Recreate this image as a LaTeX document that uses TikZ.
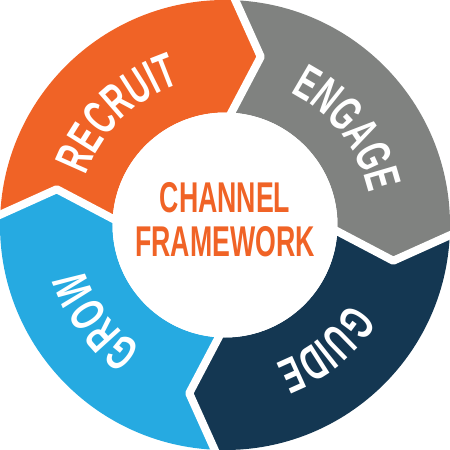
\documentclass[tikz,border=0pt]{standalone}
\usepackage{fontspec}
\usetikzlibrary{decorations.text}
\newfontfamily\framefont{Liberation Sans}[FakeStretch=0.62]
\newcommand\ringfont{\framefont\bfseries\fontsize{28}{30}\selectfont\color{white}}
\definecolor{corange}{RGB}{240,99,38}
\definecolor{cgray}{RGB}{128,130,128}
\definecolor{cnavy}{RGB}{20,55,82}
\definecolor{cblue}{RGB}{38,170,225}
\tikzset{gap/.style={white,line width=0.16cm,line join=round},
  ring label/.style={decorate,decoration={text along path,text align=center,text={#1}}}}

\begin{document}
\begin{tikzpicture}
    \def\R{4.5}\def\r{2.25}\def\t{3.44}\def\b{2.95}
    \useasboundingbox (-\R,-\R) rectangle (\R,\R);
    % ring segments, each one ends in an arrow point (clockwise)
    \foreach \a/\c in {178/corange,88/cgray,-2/cnavy,-92/cblue}
      \fill[\c] (\a:\R) arc[start angle=\a, end angle={\a-90}, radius=\R]
        -- ({\a-100}:\t) -- ({\a-90}:\r) arc[start angle={\a-90}, end angle=\a, radius=\r]
        -- ({\a-10}:\t) -- cycle;
    \foreach \a in {178,88,-2,-92}
      \draw[gap] (\a:{\R+0.1}) -- ({\a-10}:\t) -- (\a:{\r-0.1});
    \node[circle,fill=white,minimum size={2*\r cm},inner sep=0pt] (hub) at (0,0) {};
    \node[font=\framefont\bfseries\fontsize{24.5}{25}\selectfont,text=corange,align=center] (title) at (0,0.1) {CHANNEL\\FRAMEWORK};
    % labels along the ring
    \path[ring label={|\ringfont|RECRUIT}] (174:\b) arc[start angle=174, end angle=94, radius=\b];
    \path[ring label={|\ringfont|ENGAGE}] (78:\b) arc[start angle=78, end angle=-2, radius=\b];
    \path[ring label={|\ringfont|GUIDE}] (-11:\b) arc[start angle=-11, end angle=-91, radius=\b];
    \path[ring label={|\ringfont|GROW}] (-103.5:\b) arc[start angle=-103.5, end angle=-183.5, radius=\b];
\end{tikzpicture}
\end{document}
